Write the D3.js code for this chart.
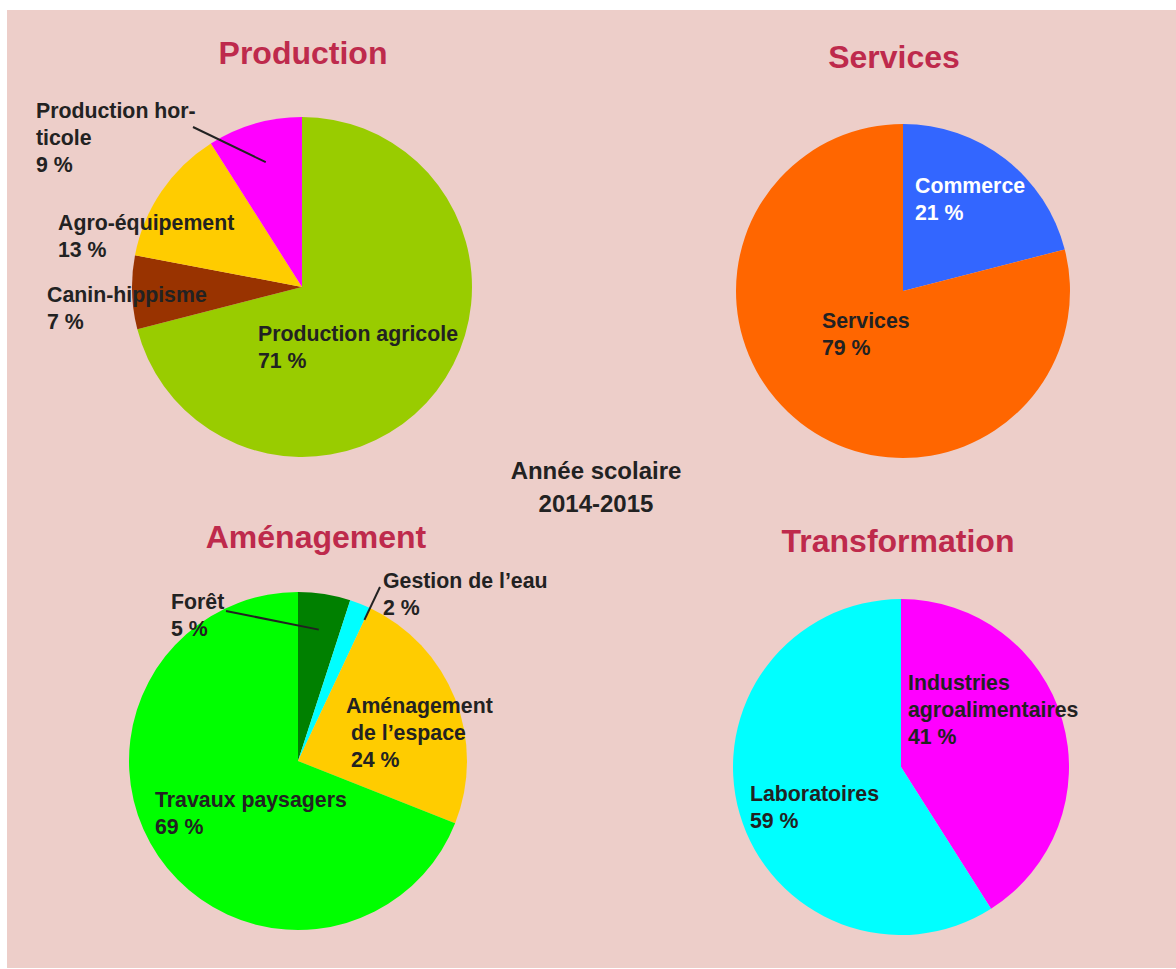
<!DOCTYPE html>
<html>
<head>
<meta charset="utf-8">
<script src="https://cdn.jsdelivr.net/npm/d3@7"></script>
<style>
    body{margin:0;background:#ffffff;}
    svg{display:block;font-family:"Liberation Sans",Arial,Helvetica,sans-serif;}
</style>
</head>
<body>
<div id="chart"></div>
<script>
// values (%), clockwise from 12 o'clock
const prodLabels = [['Production agricole'], ['Canin-hippisme'], ['Agro-équipement'], ['Production hor-','ticole']];
const prodValues = [71, 7, 13, 9];
const prodColors = ['#99cc00', '#993300', '#ffcc00', '#ff00ff'];

const servLabels = [['Commerce'], ['Services']];
const servValues = [21, 79];
const servColors = ['#3366ff', '#ff6600'];

const amenLabels = [['Forêt'], ['Gestion de l\u2019eau'], ['Aménagement','de l\u2019espace'], ['Travaux paysagers']];
const amenValues = [5, 2, 24, 69];
const amenColors = ['#008000', '#00ffff', '#ffcc00', '#00ff00'];

const transLabels = [['Industries','agroalimentaires'], ['Laboratoires']];
const transValues = [41, 59];
const transColors = ['#ff00ff', '#00ffff'];

const subtitle = ['Année scolaire', '2014-2015'];

let width = 1176;
let height = 969;
let line_h = 27;
let label_size = '21.3px';

let svg = d3.select('#chart')
    .append('svg')
    .attr('width',width)
    .attr('height',height);

svg.append('rect')
    .attr('x',7)
    .attr('y',10)
    .attr('width',width-7)
    .attr('height',958)
    .attr('fill','#edcec9');

// one chart per block; label x/y = start of first baseline
let charts = [
    {title:'Production', tx:303, ty:64, cx:302, cy:287, r:170,
     labels:prodLabels, values:prodValues, colors:prodColors,
     pos:[[258,341],[47,302],[58,230],[36,118]],
     indent:[0,0,0,0],
     textColor:['#222','#222','#222','#222'],
     leaders:[{i:3, from:[193,127], radius:130, at:'mid'}]},
    {title:'Services', tx:894, ty:68, cx:903, cy:291, r:167,
     labels:servLabels, values:servValues, colors:servColors,
     pos:[[915,193],[822,328]],
     indent:[0,0],
     textColor:['#ffffff','#222'],
     leaders:[]},
    {title:'Aménagement', tx:316, ty:548, cx:298, cy:761, r:169,
     labels:amenLabels, values:amenValues, colors:amenColors,
     pos:[[171,609],[383,588],[346,713],[155,807]],
     indent:[0,0,5,0],
     textColor:['#222','#222','#222','#222'],
     leaders:[{i:0, from:[226,611], radius:133, at:'mid'},
              {i:1, from:[380,587], radius:156, at:'end'}]},
    {title:'Transformation', tx:898, ty:552, cx:901, cy:767, r:168,
     labels:transLabels, values:transValues, colors:transColors,
     pos:[[908,690],[750,801]],
     indent:[0,0],
     textColor:['#222','#222'],
     leaders:[]}
];

charts.forEach(drawPie);

function drawPie(c){
    let pie = d3.pie().sort(null).value(d=>d);
    let arcs = pie(c.values);
    let arc = d3.arc().innerRadius(0).outerRadius(c.r);

    let g = svg.append('g')
        .attr('transform','translate('+c.cx+','+c.cy+')');

    g.selectAll('path')
        .data(arcs)
        .enter()
        .append('path')
        .attr('d',arc)
        .attr('fill',(d,i)=>c.colors[i]);

    svg.append('text')
        .text(c.title)
        .attr('x',c.tx)
        .attr('y',c.ty)
        .attr('text-anchor','middle')
        .attr('fill','#be2a4c')
        .style('font-size','32px')
        .style('font-weight','bold');

    c.leaders.forEach(function(l){
        let a = arcs[l.i];
        let ang = l.at==='mid' ? (a.startAngle+a.endAngle)/2 : a.endAngle;
        svg.append('line')
            .attr('x1',l.from[0])
            .attr('y1',l.from[1])
            .attr('x2',c.cx + Math.sin(ang)*l.radius)
            .attr('y2',c.cy - Math.cos(ang)*l.radius)
            .attr('stroke','#222')
            .attr('stroke-width',2);
    });

    c.labels.forEach(function(lines, i){
        let t = svg.append('text')
            .attr('fill',c.textColor[i])
            .style('font-size',label_size)
            .style('font-weight','bold');
        let all = lines.concat([c.values[i]+' %']);
        all.forEach(function(s, k){
            let dx = k>0 ? c.indent[i] : 0;
            t.append('tspan')
                .attr('x',c.pos[i][0]+dx)
                .attr('y',c.pos[i][1]+k*line_h)
                .text(s);
        });
    });
}

let sub = svg.append('text')
    .attr('text-anchor','middle')
    .attr('fill','#222')
    .style('font-size','24px')
    .style('font-weight','bold');

subtitle.forEach(function(s, k){
    sub.append('tspan')
        .attr('x',596)
        .attr('y',479+k*33)
        .text(s);
});
</script>
</body>
</html>
